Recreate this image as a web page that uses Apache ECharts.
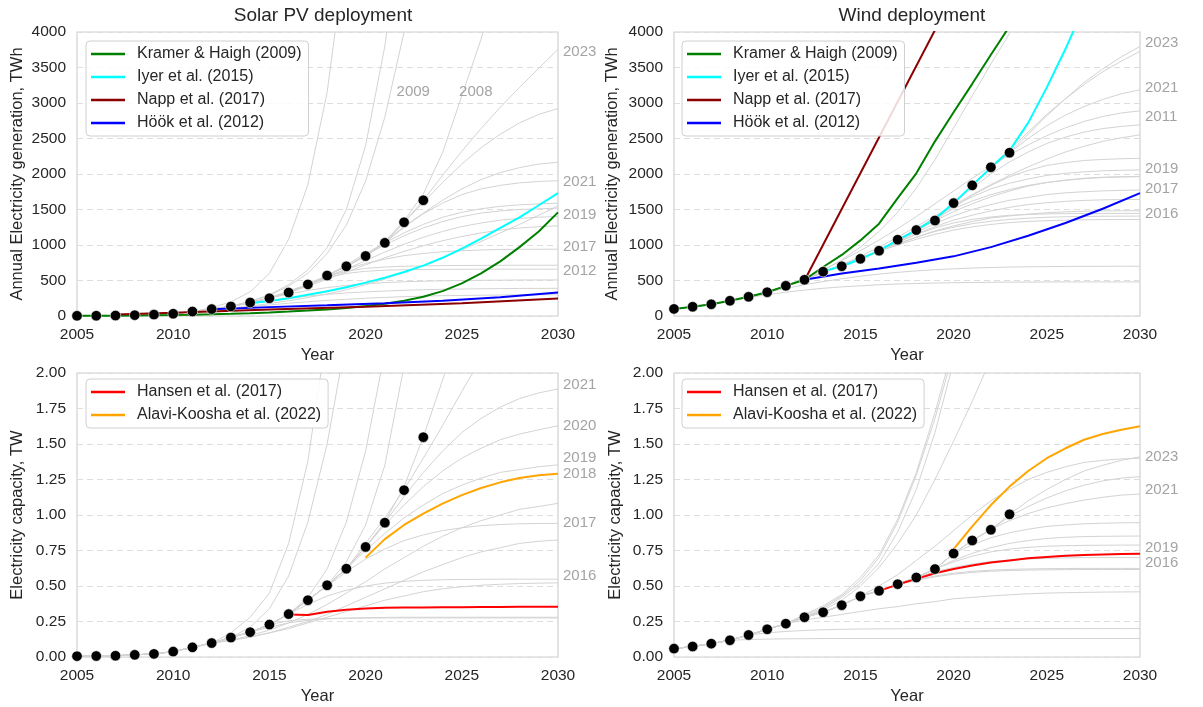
<!DOCTYPE html>
<html>
<head>
<meta charset="utf-8">
<script src="https://cdn.jsdelivr.net/npm/echarts@6.0.0/dist/echarts.min.js"></script>
<style>
  html, body { margin: 0; padding: 0; background: #fff; }
  #chart { width: 1203px; height: 707px; }
</style>
</head>
<body>
<div id="chart"></div>
<script>
// historical data, 2005-2023
var histYears = [2005, 2006, 2007, 2008, 2009, 2010, 2011, 2012, 2013, 2014, 2015, 2016, 2017, 2018, 2019, 2020, 2021, 2022, 2023];
var solarGen = [3, 4, 6, 12, 20, 32, 63, 97, 135, 190, 250, 330, 445, 570, 700, 845, 1030, 1320, 1630];
var windGen = [100, 130, 165, 215, 270, 335, 425, 510, 625, 700, 805, 920, 1075, 1210, 1345, 1590, 1840, 2095, 2300];
var solarCap = [0.006, 0.007, 0.009, 0.015, 0.022, 0.038, 0.068, 0.098, 0.137, 0.175, 0.228, 0.302, 0.4, 0.505, 0.622, 0.775, 0.946, 1.175, 1.548];
var windCap = [0.059, 0.074, 0.094, 0.118, 0.155, 0.195, 0.235, 0.28, 0.315, 0.365, 0.428, 0.466, 0.513, 0.56, 0.619, 0.729, 0.821, 0.896, 1.005];

// fitted projections (grey): last data year used, then yearly values after it
var solarGenFitFrom = [2011, 2012, 2010, 2020, 2023, 2022, 2020, 2021, 2019, 2018, 2016, 2015, 2011, 2017, 2016, 2014, 2013, 2011, 2010];
var solarGenFitValues = [
  [115, 200, 340, 600, 1080, 1850, 3150, 5200],
  [140, 205, 300, 440, 650, 960, 1500, 2400, 3800, 5800],
  [62, 95, 140, 200, 290, 420, 600, 880, 1280, 1900, 2800, 4000, 5600],
  [1050, 1340, 1720, 2300, 3100, 3900, 4800],
  [1980, 2320, 2640, 2940, 3220, 3490, 3755],
  [1600, 1880, 2140, 2370, 2560, 2720, 2840, 2922],
  [1050, 1260, 1450, 1630, 1790, 1920, 2020, 2090, 2140, 2165],
  [1250, 1440, 1590, 1710, 1790, 1840, 1875, 1895, 1906],
  [860, 1000, 1130, 1240, 1330, 1400, 1450, 1480, 1500, 1510, 1520],
  [720, 880, 1030, 1170, 1290, 1390, 1460, 1510, 1545, 1565, 1580, 1590],
  [430, 540, 660, 780, 900, 1010, 1110, 1190, 1260, 1310, 1350, 1375, 1392, 1402],
  [330, 420, 520, 620, 720, 820, 910, 990, 1060, 1120, 1170, 1210, 1240, 1258, 1270],
  [85, 110, 140, 175, 215, 260, 310, 370, 440, 520, 610, 710, 820, 930, 1050, 1170, 1290, 1420, 1550],
  [560, 660, 740, 800, 850, 880, 905, 920, 930, 936, 939, 940, 941],
  [450, 560, 630, 670, 690, 700, 706, 710, 712, 713, 714, 715, 715, 715],
  [260, 350, 450, 540, 600, 630, 645, 652, 655, 657, 658, 659, 659, 659, 659, 659],
  [190, 250, 310, 360, 400, 430, 455, 470, 482, 490, 496, 500, 503, 505, 507, 508, 508],
  [95, 135, 175, 215, 250, 280, 305, 325, 340, 352, 362, 370, 376, 380, 384, 386, 388, 389, 390],
  [55, 80, 105, 130, 155, 180, 200, 220, 235, 250, 262, 272, 280, 286, 290, 293, 295, 297, 298, 299]
];
var windGenFitFrom = [2023, 2022, 2021, 2011, 2020, 2010, 2012, 2019, 2018, 2017, 2016, 2016, 2015, 2014, 2016, 2013, 2012, 2010, 2008];
var windGenFitValues = [
  [2560, 2820, 3060, 3290, 3480, 3650, 3798],
  [2340, 2590, 2840, 3060, 3260, 3440, 3590, 3727],
  [2080, 2300, 2500, 2680, 2830, 2950, 3050, 3130, 3186],
  [530, 650, 780, 920, 1070, 1230, 1400, 1580, 1760, 1940, 2110, 2270, 2410, 2540, 2650, 2740, 2810, 2860, 2889],
  [1800, 2000, 2170, 2310, 2430, 2520, 2590, 2640, 2670, 2692],
  [420, 510, 610, 720, 840, 970, 1110, 1260, 1410, 1560, 1710, 1850, 1980, 2100, 2210, 2310, 2390, 2460, 2510, 2551],
  [640, 790, 970, 1190, 1460, 1800, 2200, 2650, 3100, 3550, 3980, 4400],
  [1530, 1700, 1840, 1960, 2050, 2120, 2160, 2190, 2205, 2215, 2221],
  [1390, 1550, 1680, 1790, 1870, 1930, 1980, 2010, 2030, 2045, 2052, 2057],
  [1230, 1380, 1510, 1620, 1710, 1780, 1840, 1880, 1910, 1935, 1950, 1958, 1962],
  [1060, 1200, 1340, 1470, 1580, 1680, 1760, 1830, 1880, 1915, 1940, 1955, 1962, 1966],
  [1050, 1180, 1300, 1410, 1500, 1570, 1630, 1670, 1710, 1735, 1750, 1762, 1770, 1774],
  [920, 1040, 1150, 1260, 1350, 1420, 1480, 1530, 1570, 1595, 1615, 1628, 1636, 1640, 1642],
  [800, 910, 1010, 1110, 1200, 1270, 1330, 1380, 1410, 1435, 1455, 1467, 1475, 1480, 1482, 1482],
  [1040, 1150, 1240, 1310, 1360, 1395, 1418, 1430, 1438, 1442, 1444, 1445, 1445, 1445],
  [720, 820, 920, 1020, 1110, 1190, 1250, 1300, 1335, 1360, 1378, 1390, 1398, 1402, 1405, 1406, 1407],
  [610, 710, 810, 910, 1000, 1080, 1150, 1210, 1255, 1290, 1315, 1332, 1343, 1350, 1355, 1358, 1359, 1360],
  [390, 440, 485, 525, 560, 590, 615, 635, 652, 665, 675, 683, 689, 693, 696, 698, 699, 700, 701, 701],
  [260, 300, 335, 365, 390, 410, 425, 440, 450, 458, 464, 469, 472, 475, 477, 478, 479, 480, 480, 480, 480, 480]
];
var solarCapFitFrom = [2012, 2013, 2016, 2018, 2020, 2019, 2021, 2020, 2019, 2012, 2017, 2012, 2016, 2012, 2015, 2014];
var solarCapFitValues = [
  [0.17, 0.28, 0.45, 0.8, 1.38, 2.3],
  [0.21, 0.34, 0.57, 0.95, 1.5, 2.25],
  [0.42, 0.62, 0.95, 1.45, 2.15],
  [0.67, 0.93, 1.35, 2.05],
  [0.95, 1.2, 1.55, 1.95, 2.35],
  [0.8, 0.98, 1.18, 1.4, 1.63, 1.87, 2.1],
  [1.13, 1.3, 1.45, 1.58, 1.68, 1.76, 1.82, 1.86, 1.887],
  [0.93, 1.07, 1.2, 1.31, 1.4, 1.47, 1.53, 1.57, 1.6, 1.628],
  [0.75, 0.87, 0.98, 1.07, 1.15, 1.21, 1.26, 1.3, 1.32, 1.34, 1.353],
  [0.12, 0.15, 0.19, 0.24, 0.3, 0.37, 0.45, 0.53, 0.62, 0.7, 0.78, 0.85, 0.91, 0.96, 1.0, 1.04, 1.06, 1.082],
  [0.5, 0.6, 0.69, 0.76, 0.82, 0.86, 0.89, 0.91, 0.925, 0.933, 0.938, 0.94, 0.941],
  [0.115, 0.14, 0.17, 0.21, 0.25, 0.3, 0.36, 0.42, 0.48, 0.54, 0.6, 0.65, 0.7, 0.74, 0.77, 0.8, 0.815, 0.824],
  [0.37, 0.43, 0.47, 0.5, 0.52, 0.533, 0.54, 0.544, 0.546, 0.547, 0.548, 0.548, 0.548, 0.548],
  [0.12, 0.14, 0.17, 0.2, 0.24, 0.28, 0.32, 0.36, 0.4, 0.43, 0.46, 0.48, 0.495, 0.505, 0.512, 0.517, 0.52, 0.522],
  [0.255, 0.266, 0.271, 0.273, 0.274, 0.275, 0.275, 0.275, 0.275, 0.275, 0.275, 0.275, 0.275, 0.275, 0.275],
  [0.21, 0.24, 0.258, 0.268, 0.274, 0.277, 0.279, 0.28, 0.28, 0.28, 0.28, 0.28, 0.28, 0.28, 0.28, 0.28]
];
var windCapFitFrom = [2011, 2011, 2012, 2012, 2023, 2015, 2022, 2021, 2020, 2019, 2018, 2017, 2016, 2015, 2011, 2009, 2008];
var windCapFitValues = [
  [0.29, 0.35, 0.43, 0.54, 0.7, 0.95, 1.28, 1.68, 2.15],
  [0.3, 0.36, 0.44, 0.56, 0.72, 0.97, 1.3, 1.72, 2.2],
  [0.34, 0.42, 0.52, 0.66, 0.88, 1.18, 1.58, 2.08],
  [0.33, 0.4, 0.5, 0.63, 0.8, 1.0, 1.25, 1.52, 1.8, 2.1],
  [1.1, 1.18, 1.25, 1.31, 1.35, 1.385, 1.41],
  [0.5, 0.58, 0.68, 0.78, 0.89, 1.0, 1.1, 1.18, 1.25, 1.3, 1.34, 1.37, 1.385, 1.395, 1.4],
  [0.99, 1.06, 1.12, 1.17, 1.21, 1.24, 1.26, 1.27],
  [0.9, 0.96, 1.01, 1.05, 1.08, 1.105, 1.125, 1.14, 1.148],
  [0.79, 0.84, 0.875, 0.9, 0.92, 0.93, 0.938, 0.942, 0.945, 0.946],
  [0.68, 0.73, 0.77, 0.8, 0.82, 0.835, 0.843, 0.848, 0.85, 0.851, 0.852],
  [0.62, 0.67, 0.71, 0.74, 0.76, 0.772, 0.78, 0.784, 0.786, 0.787, 0.788, 0.788],
  [0.56, 0.6, 0.63, 0.655, 0.672, 0.683, 0.69, 0.695, 0.698, 0.7, 0.7, 0.7, 0.7],
  [0.51, 0.545, 0.57, 0.59, 0.603, 0.612, 0.617, 0.62, 0.622, 0.623, 0.624, 0.624, 0.624, 0.624],
  [0.47, 0.51, 0.54, 0.565, 0.583, 0.596, 0.604, 0.609, 0.612, 0.614, 0.615, 0.616, 0.616, 0.616, 0.616],
  [0.26, 0.28, 0.3, 0.32, 0.34, 0.355, 0.375, 0.39, 0.41, 0.42, 0.43, 0.438, 0.445, 0.45, 0.453, 0.455, 0.457, 0.458, 0.459],
  [0.17, 0.18, 0.187, 0.192, 0.195, 0.197, 0.198, 0.199, 0.2, 0.2, 0.2, 0.2, 0.2, 0.2, 0.2, 0.2, 0.2, 0.2, 0.2, 0.2, 0.2],
  [0.123, 0.126, 0.128, 0.129, 0.13, 0.13, 0.13, 0.13, 0.13, 0.13, 0.13, 0.13, 0.13, 0.13, 0.13, 0.13, 0.13, 0.13, 0.13, 0.13, 0.13, 0.13]
];

// published scenarios
var kramerSolarYears = [2005, 2006, 2007, 2008, 2009, 2010, 2011, 2012, 2013, 2014, 2015, 2016, 2017, 2018, 2019, 2020, 2021, 2022, 2023, 2024, 2025, 2026, 2027, 2028, 2029, 2030];
var kramerSolar = [2, 3, 5, 7, 10, 14, 19, 25, 32, 40, 50, 62, 76, 93, 114, 140, 172, 215, 270, 350, 460, 600, 770, 970, 1190, 1460];
var iyerSolarYears = [2014, 2015, 2016, 2017, 2018, 2019, 2020, 2021, 2022, 2023, 2024, 2025, 2026, 2027, 2028, 2029, 2030];
var iyerSolar = [180, 210, 250, 300, 350, 405, 470, 540, 620, 710, 820, 950, 1090, 1240, 1390, 1560, 1730];
var nappSolarYears = [2007, 2010, 2015, 2020, 2025, 2030];
var nappSolar = [20, 45, 90, 130, 180, 245];
var hookSolarYears = [2012, 2015, 2018, 2021, 2024, 2027, 2030];
var hookSolar = [95, 125, 150, 180, 215, 265, 330];

var kramerWindYears = [2005, 2006, 2007, 2008, 2009, 2010, 2011, 2012, 2013, 2014, 2015, 2016, 2017, 2018, 2019, 2020, 2021, 2022, 2023];
var kramerWind = [100, 130, 165, 215, 270, 335, 425, 510, 690, 860, 1065, 1300, 1660, 2010, 2460, 2870, 3270, 3680, 4080];
var iyerWindYears = [2013, 2014, 2015, 2016, 2017, 2018, 2019, 2020, 2021, 2022, 2023, 2024, 2025, 2026, 2027];
var iyerWind = [630, 700, 800, 920, 1070, 1210, 1370, 1590, 1840, 2090, 2330, 2720, 3220, 3760, 4350];
var nappWindYears = [2012, 2020];
var nappWind = [500, 4530];
var hookWindYears = [2012, 2014, 2016, 2018, 2020, 2022, 2024, 2026, 2028, 2030];
var hookWind = [510, 600, 670, 750, 840, 970, 1130, 1310, 1510, 1730];

var hansenYears = [2016, 2017, 2018, 2019, 2020, 2021, 2022, 2023, 2024, 2025, 2026, 2027, 2028, 2029, 2030];
var hansenSolar = [0.3, 0.295, 0.318, 0.333, 0.341, 0.346, 0.348, 0.349, 0.35, 0.351, 0.352, 0.352, 0.353, 0.353, 0.353];
var hansenWind = [0.466, 0.51, 0.55, 0.59, 0.62, 0.645, 0.665, 0.68, 0.695, 0.705, 0.713, 0.718, 0.722, 0.725, 0.727];
var alaviYears = [2020, 2021, 2022, 2023, 2024, 2025, 2026, 2027, 2028, 2029, 2030];
var alaviSolar = [0.7, 0.83, 0.93, 1.01, 1.08, 1.14, 1.19, 1.23, 1.26, 1.28, 1.29];
var alaviWind = [0.76, 0.92, 1.07, 1.2, 1.31, 1.4, 1.47, 1.53, 1.57, 1.6, 1.625];

// vintage labels
var solarGenLabels = ['2023', '2021', '2019', '2017', '2012', '2009', '2008'];
var solarGenLabelX = [2030, 2030, 2030, 2030, 2030, 2021.35, 2024.6];
var solarGenLabelY = [3727, 1892, 1431, 974, 631, 3150, 3150];
var windGenLabels = ['2023', '2021', '2011', '2019', '2017', '2016'];
var windGenLabelY = [3845, 3209, 2809, 2066, 1784, 1445];
var solarCapLabels = ['2021', '2020', '2019', '2018', '2017', '2016'];
var solarCapLabelY = [1.918, 1.631, 1.405, 1.289, 0.946, 0.572];
var windCapLabels = ['2023', '2021', '2019', '2016'];
var windCapLabelY = [1.407, 1.176, 0.772, 0.664];

var FONT = 'Liberation Sans, Arial, sans-serif';
var TXT = '#262626';

function fitLines(idx, hist, from, tails) {
  return from.map(function (start, k) {
    var data = [];
    for (var y = histYears[0]; y <= start; y++) data.push([y, hist[y - histYears[0]]]);
    tails[k].forEach(function (v, i) { data.push([start + 1 + i, v]); });
    return {
      type: 'line', xAxisIndex: idx, yAxisIndex: idx, data: data,
      symbol: 'none', silent: true, z: 1,
      lineStyle: { color: '#d3d3d3', width: 1 }, itemStyle: { color: '#d3d3d3' }
    };
  });
}

function model(idx, name, color, years, values) {
  return {
    type: 'line', name: name, xAxisIndex: idx, yAxisIndex: idx,
    data: years.map(function (y, i) { return [y, values[i]]; }),
    symbol: 'none', z: 2,
    lineStyle: { color: color, width: 2 }, itemStyle: { color: color }
  };
}

function dots(idx, hist) {
  return {
    type: 'scatter', xAxisIndex: idx, yAxisIndex: idx, z: 3,
    data: histYears.map(function (y, i) { return [y, hist[i]]; }),
    symbolSize: 10.5, itemStyle: { color: '#000', opacity: 1, borderColor: '#fff', borderWidth: 0.6 }
  };
}

function vintageLabels(idx, texts, xs, ys) {
  return {
    type: 'scatter', xAxisIndex: idx, yAxisIndex: idx, z: 4, clip: false, silent: true,
    symbolSize: 0,
    data: texts.map(function (t, i) { return { name: t, value: [xs ? xs[i] : 2030, ys[i]] }; }),
    label: { show: true, position: 'right', distance: 5, formatter: '{b}', color: '#8c8c8c', fontSize: 15, fontFamily: FONT }
  };
}

var grids = [
  { left: 77, top: 32, width: 481, height: 284 },
  { left: 674, top: 32, width: 466, height: 284 },
  { left: 77, top: 373, width: 481, height: 284 },
  { left: 674, top: 373, width: 466, height: 284 }
].map(function (g) {
  g.show = true; g.borderColor = '#d0d0d0'; g.borderWidth = 1.2; g.backgroundColor = '#fff';
  return g;
});

var xAxes = [0, 1, 2, 3].map(function (i) {
  return {
    type: 'value', gridIndex: i, min: 2005, max: 2030, interval: 5,
    name: 'Year', nameLocation: 'middle', nameGap: 31,
    nameTextStyle: { fontSize: 16.5, color: TXT, fontFamily: FONT },
    axisLine: { show: false }, axisTick: { show: false }, splitLine: { show: false },
    axisLabel: { fontSize: 15.5, color: TXT, margin: 11, fontFamily: FONT, formatter: function (v) { return String(v); } }
  };
});

var yNames = ['Annual Electricity generation, TWh', 'Annual Electricity generation, TWh', 'Electricity capacity, TW', 'Electricity capacity, TW'];
var yGaps = [51, 53, 51, 50];
var yAxes = [0, 1, 2, 3].map(function (i) {
  var top = i < 2;
  return {
    type: 'value', gridIndex: i, min: 0, max: top ? 4000 : 2, interval: top ? 500 : 0.25,
    name: yNames[i], nameLocation: 'middle', nameGap: yGaps[i],
    nameTextStyle: { fontSize: 16.5, color: TXT, fontFamily: FONT },
    axisLine: { show: false }, axisTick: { show: false },
    splitLine: { show: true, lineStyle: { color: '#dedede', type: [6, 4], width: 1 } },
    axisLabel: {
      fontSize: 15.5, color: TXT, margin: 11, fontFamily: FONT,
      formatter: top ? function (v) { return String(v); } : function (v) { return v.toFixed(2); }
    }
  };
});

var genNames = ['Kramer & Haigh (2009)', 'Iyer et al. (2015)', 'Napp et al. (2017)', 'Höök et al. (2012)'];
var capNames = ['Hansen et al. (2017)', 'Alavi-Koosha et al. (2022)'];

function legendAt(left, top, names) {
  return {
    data: names, left: left, top: top, orient: 'vertical', icon: 'rect',
    itemWidth: 34, itemHeight: 2.5, itemGap: 7, selectedMode: false,
    padding: [5, 7, 5, 5],
    textStyle: { fontSize: 16, color: TXT, fontFamily: FONT, padding: [0, 0, 0, 7] },
    backgroundColor: 'rgba(255,255,255,0.85)', borderColor: '#d0d0d0', borderWidth: 1, borderRadius: 4
  };
}

var series = []
  .concat(fitLines(0, solarGen, solarGenFitFrom, solarGenFitValues))
  .concat(fitLines(1, windGen, windGenFitFrom, windGenFitValues))
  .concat(fitLines(2, solarCap, solarCapFitFrom, solarCapFitValues))
  .concat(fitLines(3, windCap, windCapFitFrom, windCapFitValues))
  .concat([
    model(0, genNames[0], '#008000', kramerSolarYears, kramerSolar),
    model(0, genNames[1], '#00ffff', iyerSolarYears, iyerSolar),
    model(0, genNames[2], '#8b0000', nappSolarYears, nappSolar),
    model(0, genNames[3], '#0000ff', hookSolarYears, hookSolar),
    model(1, genNames[0], '#008000', kramerWindYears, kramerWind),
    model(1, genNames[1], '#00ffff', iyerWindYears, iyerWind),
    model(1, genNames[2], '#8b0000', nappWindYears, nappWind),
    model(1, genNames[3], '#0000ff', hookWindYears, hookWind),
    model(2, capNames[0], '#ff0000', hansenYears, hansenSolar),
    model(2, capNames[1], '#ffa500', alaviYears, alaviSolar),
    model(3, capNames[0], '#ff0000', hansenYears, hansenWind),
    model(3, capNames[1], '#ffa500', alaviYears, alaviWind),
    dots(0, solarGen), dots(1, windGen), dots(2, solarCap), dots(3, windCap),
    vintageLabels(0, solarGenLabels, solarGenLabelX, solarGenLabelY),
    vintageLabels(1, windGenLabels, null, windGenLabelY),
    vintageLabels(2, solarCapLabels, null, solarCapLabelY),
    vintageLabels(3, windCapLabels, null, windCapLabelY)
  ]);

var chart = echarts.init(document.getElementById('chart'), null, { renderer: 'canvas' });
chart.setOption({
  animation: false,
  backgroundColor: '#fff',
  textStyle: { fontFamily: FONT },
  title: [
    { text: 'Solar PV deployment', left: 318, top: 1, textAlign: 'center', textStyle: { fontSize: 19, fontWeight: 'normal', color: TXT, fontFamily: FONT } },
    { text: 'Wind deployment', left: 907, top: 1, textAlign: 'center', textStyle: { fontSize: 19, fontWeight: 'normal', color: TXT, fontFamily: FONT } }
  ],
  legend: [
    legendAt(86, 41, genNames),
    legendAt(682, 41, genNames),
    legendAt(86, 379, capNames),
    legendAt(682, 379, capNames)
  ],
  grid: grids,
  xAxis: xAxes,
  yAxis: yAxes,
  series: series
});
</script>
</body>
</html>
